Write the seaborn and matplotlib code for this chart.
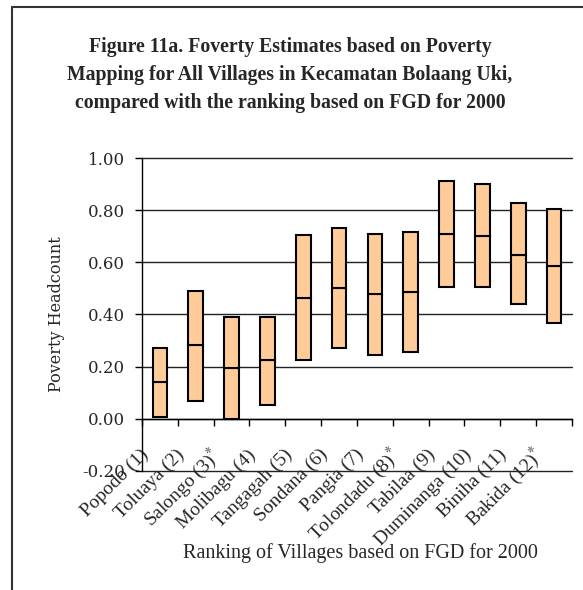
import numpy as np
import pandas as pd
import seaborn as sns
import matplotlib.pyplot as plt
from matplotlib.transforms import ScaledTranslation
from matplotlib.ticker import FormatStrFormatter, MultipleLocator

villages = ["Popodo (1)", "Toluaya (2)", r"Salongo (3)$^{*}$", "Molibagu (4)",
            "Tangagah (5)", "Sondana (6)", "Pangia (7)", r"Tolondadu (8)$^{*}$",
            "Tabilaa (9)", "Duminanga (10)", "Biniha (11)", r"Bakida (12)$^{*}$"]
low = [0.008, 0.068, 0.000, 0.054, 0.224, 0.270, 0.243, 0.257, 0.507, 0.507, 0.440, 0.366]
mid = [0.142, 0.284, 0.195, 0.224, 0.465, 0.501, 0.479, 0.487, 0.709, 0.702, 0.627, 0.586]
high = [0.270, 0.492, 0.392, 0.392, 0.703, 0.730, 0.708, 0.717, 0.912, 0.899, 0.826, 0.804]

df = pd.DataFrame({"village": villages, "low": low, "mid": mid, "high": high})
df["lower_part"] = df["mid"] - df["low"]
df["upper_part"] = df["high"] - df["mid"]

sns.set_theme(style="white")
plt.rcParams["font.family"] = ["Liberation Serif", "DejaVu Serif"]
plt.rcParams["mathtext.fontset"] = "stix"

fig = plt.figure(figsize=(5.83, 5.90), dpi=100)
ax = fig.add_axes([0.2436, 0.2017, 0.7374, 0.5305])

# each box = two stacked parts, so the middle estimate shows as the divider
box_kw = dict(color="#FFCC99", edgecolor="black", linewidth=1.5, width=0.41,
              saturation=1, errorbar=None, ax=ax)
sns.barplot(data=df, x="village", y="lower_part", bottom=df["low"], **box_kw)
sns.barplot(data=df, x="village", y="upper_part", bottom=df["mid"], **box_kw)

ax.set_ylim(-0.2, 1.0)
ax.set_xlim(-0.5, len(villages) - 0.5)
ax.yaxis.set_major_locator(MultipleLocator(0.2))
ax.yaxis.set_major_formatter(FormatStrFormatter("%.2f"))
ax.grid(axis="y", color="#222222", linewidth=1.0)
ax.set_axisbelow(True)
for gl in ax.get_ygridlines():
    gl.set_clip_on(False)

for s in ["top", "right"]:
    ax.spines[s].set_visible(False)
ax.spines["bottom"].set_position(("data", 0))
for s in ["left", "bottom"]:
    ax.spines[s].set_color("black")
    ax.spines[s].set_linewidth(1.0)

ax.tick_params(axis="y", direction="out", length=5, width=1, color="black",
               labelsize=12, pad=7, left=True)
for lab in ax.get_yticklabels():
    lab.set_family("DejaVu Serif")

# tick marks on category boundaries, labels at the centres
ax.set_xticks(np.arange(-0.5, len(villages), 1), minor=True)
ax.tick_params(axis="x", which="minor", direction="out", length=5, width=1,
               color="black", bottom=True)
ax.set_xticks(range(len(villages)))
ax.set_xticklabels(villages, rotation=45, ha="right", va="center",
                   rotation_mode="anchor", fontsize=14)
ax.tick_params(axis="x", which="major", length=0, pad=24)
shift = ScaledTranslation(-14 / 100, 0, fig.dpi_scale_trans)
for lab in ax.get_xticklabels():
    lab.set_transform(lab.get_transform() + shift)

ax.set_xlabel("")
ax.set_ylabel("Poverty Headcount", family="DejaVu Serif", fontsize=11.5, labelpad=0)
ax.yaxis.set_label_coords(-0.18, 0.5)

fig.text(360 / 583, 1 - 553 / 590, "Ranking of Villages based on FGD for 2000",
         ha="center", va="center", fontsize=14.5)

fig.text(290 / 583, 1 - 75 / 590,
         "Figure 11a. Foverty Estimates based on Poverty\n"
         "Mapping for All Villages in Kecamatan Bolaang Uki,\n"
         "compared with the ranking based on FGD for 2000",
         ha="center", va="center", fontsize=14.2, fontweight="bold", linespacing=1.55)

# outer frame of the original figure (left and top edges visible)
fig.add_artist(plt.Line2D([12 / 583, 12 / 583], [0, 1 - 7 / 590], color="#333333",
                          linewidth=1.5, transform=fig.transFigure))
fig.add_artist(plt.Line2D([12 / 583, 1], [1 - 7 / 590, 1 - 7 / 590], color="#333333",
                          linewidth=1.5, transform=fig.transFigure))

fig.savefig("out.png", dpi=100)
